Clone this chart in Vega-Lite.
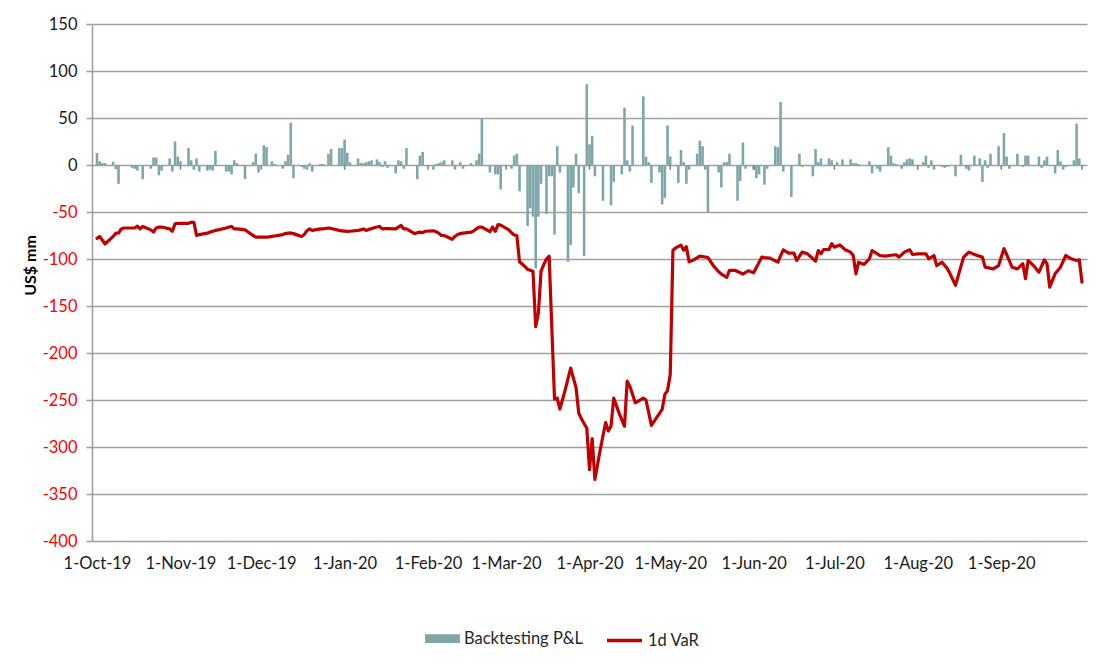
{
  "$schema": "https://vega.github.io/schema/vega-lite/v6.json",
  "width": 995,
  "height": 517,
  "autosize": {"type": "none"},
  "padding": {"left": 92, "top": 24, "right": 18, "bottom": 124},
  "background": "white",
  "config": {
    "font": "Lato",
    "view": {"stroke": null},
    "axisY": {
      "grid": true, "gridColor": "#A0A0A0", "gridWidth": 1.6,
      "domainColor": "#A0A0A0", "domainWidth": 1.6,
      "tickColor": "#A0A0A0", "tickSize": 6, "tickWidth": 1.6,
      "labelPadding": 9, "labelFontSize": 16.5,
      "labelColor": {"condition": {"test": "datum.value < 0", "value": "#FF0000"}, "value": "#1A1A1A"},
      "titleFontSize": 16, "titleFontWeight": "bold", "titleColor": "#000000",
      "titleX": -54, "titleY": 241, "titleAngle": -90
    },
    "axisX": {
      "grid": false, "ticks": false, "domain": false,
      "labelPadding": 14, "labelFontSize": 16.5, "labelColor": "#1A1A1A",
      "labelFlush": false, "labelOverlap": false
    },
    "legend": {"padding": 0, "labelFontSize": 16.5, "labelColor": "#262626", "labelOffset": 4}
  },
  "datasets": {
    "months": [
      {"date": "2019-11-01"}, {"date": "2019-12-01"}, {"date": "2020-01-01"}, {"date": "2020-02-01"},
      {"date": "2020-03-01"}, {"date": "2020-04-01"}, {"date": "2020-05-01"}, {"date": "2020-06-01"},
      {"date": "2020-07-01"}, {"date": "2020-08-01"}, {"date": "2020-09-01"}, {"date": "2020-10-01"}
    ],
    "pnl": [
      {"date":"2019-10-01","pnl":12.8},{"date":"2019-10-02","pnl":4},{"date":"2019-10-03","pnl":2},{"date":"2019-10-04","pnl":2},
      {"date":"2019-10-07","pnl":3.5},{"date":"2019-10-08","pnl":-4.6},{"date":"2019-10-09","pnl":-20},{"date":"2019-10-14","pnl":-3},
      {"date":"2019-10-15","pnl":-4},{"date":"2019-10-16","pnl":-6},{"date":"2019-10-18","pnl":-15},{"date":"2019-10-21","pnl":-4},
      {"date":"2019-10-22","pnl":8},{"date":"2019-10-23","pnl":8},{"date":"2019-10-24","pnl":-11},{"date":"2019-10-25","pnl":-6},
      {"date":"2019-10-28","pnl":7},{"date":"2019-10-29","pnl":-7},{"date":"2019-10-30","pnl":25},{"date":"2019-10-31","pnl":9},
      {"date":"2019-11-01","pnl":4},{"date":"2019-11-04","pnl":18},{"date":"2019-11-05","pnl":5},{"date":"2019-11-06","pnl":-5},
      {"date":"2019-11-07","pnl":7},{"date":"2019-11-08","pnl":-7},{"date":"2019-11-11","pnl":-6},{"date":"2019-11-12","pnl":-5},
      {"date":"2019-11-13","pnl":-6},{"date":"2019-11-14","pnl":15},{"date":"2019-11-18","pnl":-7},{"date":"2019-11-19","pnl":-7},
      {"date":"2019-11-20","pnl":-10},{"date":"2019-11-21","pnl":5},{"date":"2019-11-22","pnl":2},{"date":"2019-11-25","pnl":-15},
      {"date":"2019-11-28","pnl":3},{"date":"2019-11-29","pnl":12},{"date":"2019-11-30","pnl":-8},{"date":"2019-12-02","pnl":21},
      {"date":"2019-12-03","pnl":19},{"date":"2019-12-05","pnl":4},{"date":"2019-12-06","pnl":1},{"date":"2019-12-09","pnl":-4},
      {"date":"2019-12-10","pnl":4},{"date":"2019-12-11","pnl":11},{"date":"2019-12-12","pnl":45},{"date":"2019-12-13","pnl":-14},
      {"date":"2019-12-16","pnl":-2},{"date":"2019-12-17","pnl":-4},{"date":"2019-12-18","pnl":-5},{"date":"2019-12-19","pnl":2},
      {"date":"2019-12-20","pnl":-7},{"date":"2019-12-23","pnl":1},{"date":"2019-12-24","pnl":1},{"date":"2019-12-26","pnl":12},
      {"date":"2019-12-27","pnl":17},{"date":"2019-12-30","pnl":18},{"date":"2019-12-31","pnl":18},{"date":"2020-01-01","pnl":27},
      {"date":"2020-01-02","pnl":13},{"date":"2020-01-03","pnl":3},{"date":"2020-01-06","pnl":7},{"date":"2020-01-07","pnl":2},
      {"date":"2020-01-08","pnl":2},{"date":"2020-01-09","pnl":3},{"date":"2020-01-10","pnl":4},{"date":"2020-01-11","pnl":5},
      {"date":"2020-01-13","pnl":6},{"date":"2020-01-14","pnl":3},{"date":"2020-01-15","pnl":-2},{"date":"2020-01-16","pnl":4},
      {"date":"2020-01-17","pnl":-3},{"date":"2020-01-20","pnl":-9},{"date":"2020-01-21","pnl":5},{"date":"2020-01-22","pnl":4},
      {"date":"2020-01-23","pnl":-4},{"date":"2020-01-24","pnl":18},{"date":"2020-01-28","pnl":-15},{"date":"2020-01-29","pnl":10},
      {"date":"2020-01-30","pnl":14},{"date":"2020-02-03","pnl":-5},{"date":"2020-02-04","pnl":1},{"date":"2020-02-05","pnl":2},
      {"date":"2020-02-06","pnl":3},{"date":"2020-02-07","pnl":5},{"date":"2020-02-10","pnl":5},{"date":"2020-02-11","pnl":-5},
      {"date":"2020-02-13","pnl":3},{"date":"2020-02-14","pnl":-4},{"date":"2020-02-17","pnl":2},{"date":"2020-02-19","pnl":5},
      {"date":"2020-02-20","pnl":12},{"date":"2020-02-21","pnl":50},{"date":"2020-02-24","pnl":-8},{"date":"2020-02-26","pnl":-10},
      {"date":"2020-02-27","pnl":-10},{"date":"2020-02-28","pnl":-26},{"date":"2020-03-03","pnl":-4},{"date":"2020-03-04","pnl":10},
      {"date":"2020-03-05","pnl":12},{"date":"2020-03-06","pnl":-28},{"date":"2020-03-09","pnl":-65},{"date":"2020-03-10","pnl":-46},
      {"date":"2020-03-11","pnl":-55},{"date":"2020-03-12","pnl":-110},{"date":"2020-03-13","pnl":-55},{"date":"2020-03-14","pnl":-20},
      {"date":"2020-03-16","pnl":-52},{"date":"2020-03-17","pnl":-12},{"date":"2020-03-18","pnl":-12},{"date":"2020-03-19","pnl":-74},
      {"date":"2020-03-20","pnl":20},{"date":"2020-03-21","pnl":-8},{"date":"2020-03-24","pnl":-103},{"date":"2020-03-25","pnl":-85},
      {"date":"2020-03-26","pnl":-24},{"date":"2020-03-27","pnl":12},{"date":"2020-03-28","pnl":-30},{"date":"2020-03-30","pnl":-97},
      {"date":"2020-03-31","pnl":86},{"date":"2020-04-01","pnl":22},{"date":"2020-04-02","pnl":31},{"date":"2020-04-03","pnl":-12},
      {"date":"2020-04-06","pnl":-38},{"date":"2020-04-09","pnl":-43},{"date":"2020-04-10","pnl":-18},{"date":"2020-04-13","pnl":-10},
      {"date":"2020-04-14","pnl":61},{"date":"2020-04-15","pnl":5},{"date":"2020-04-16","pnl":-7},{"date":"2020-04-17","pnl":42},
      {"date":"2020-04-21","pnl":73},{"date":"2020-04-22","pnl":9},{"date":"2020-04-23","pnl":3},{"date":"2020-04-24","pnl":-19},
      {"date":"2020-04-27","pnl":-8},{"date":"2020-04-28","pnl":-42},{"date":"2020-04-29","pnl":-35},{"date":"2020-04-30","pnl":42},
      {"date":"2020-05-01","pnl":9},{"date":"2020-05-04","pnl":-19},{"date":"2020-05-05","pnl":16},{"date":"2020-05-06","pnl":3},
      {"date":"2020-05-07","pnl":-20},{"date":"2020-05-08","pnl":-5},{"date":"2020-05-11","pnl":12},{"date":"2020-05-12","pnl":26},
      {"date":"2020-05-13","pnl":20},{"date":"2020-05-14","pnl":-5},{"date":"2020-05-15","pnl":-50},{"date":"2020-05-19","pnl":-8},
      {"date":"2020-05-20","pnl":-24},{"date":"2020-05-21","pnl":3},{"date":"2020-05-22","pnl":3},{"date":"2020-05-23","pnl":12},
      {"date":"2020-05-26","pnl":-38},{"date":"2020-05-27","pnl":-17},{"date":"2020-05-28","pnl":24},{"date":"2020-05-29","pnl":-4},
      {"date":"2020-06-01","pnl":-5},{"date":"2020-06-02","pnl":-14},{"date":"2020-06-03","pnl":-10},{"date":"2020-06-05","pnl":-21},
      {"date":"2020-06-06","pnl":-4},{"date":"2020-06-09","pnl":20},{"date":"2020-06-10","pnl":19},{"date":"2020-06-11","pnl":67},
      {"date":"2020-06-12","pnl":-7},{"date":"2020-06-15","pnl":-34},{"date":"2020-06-18","pnl":12},{"date":"2020-06-19","pnl":-2},
      {"date":"2020-06-23","pnl":-12},{"date":"2020-06-24","pnl":17},{"date":"2020-06-25","pnl":3},{"date":"2020-06-26","pnl":7},
      {"date":"2020-06-29","pnl":7},{"date":"2020-06-30","pnl":5},{"date":"2020-07-02","pnl":3},{"date":"2020-07-04","pnl":6},
      {"date":"2020-07-07","pnl":6},{"date":"2020-07-08","pnl":2},{"date":"2020-07-09","pnl":2},{"date":"2020-07-10","pnl":1},
      {"date":"2020-07-14","pnl":4},{"date":"2020-07-15","pnl":-9},{"date":"2020-07-17","pnl":-4},{"date":"2020-07-18","pnl":-7},
      {"date":"2020-07-21","pnl":19},{"date":"2020-07-22","pnl":10},{"date":"2020-07-23","pnl":2},{"date":"2020-07-24","pnl":1},
      {"date":"2020-07-26","pnl":-4},{"date":"2020-07-27","pnl":3},{"date":"2020-07-28","pnl":6},{"date":"2020-07-29","pnl":7},
      {"date":"2020-07-30","pnl":6},{"date":"2020-08-03","pnl":3},{"date":"2020-08-04","pnl":10},{"date":"2020-08-05","pnl":-3},
      {"date":"2020-08-06","pnl":5},{"date":"2020-08-07","pnl":-5},{"date":"2020-08-10","pnl":-2},{"date":"2020-08-11","pnl":-3},
      {"date":"2020-08-12","pnl":-2},{"date":"2020-08-15","pnl":-12},{"date":"2020-08-17","pnl":11},{"date":"2020-08-19","pnl":-4},
      {"date":"2020-08-20","pnl":-6},{"date":"2020-08-22","pnl":10},{"date":"2020-08-24","pnl":7},{"date":"2020-08-25","pnl":-18},
      {"date":"2020-08-26","pnl":5},{"date":"2020-08-27","pnl":-3},{"date":"2020-08-28","pnl":12},{"date":"2020-08-31","pnl":20},
      {"date":"2020-09-02","pnl":34},{"date":"2020-09-03","pnl":9},{"date":"2020-09-04","pnl":-4},{"date":"2020-09-07","pnl":12},
      {"date":"2020-09-09","pnl":-2},{"date":"2020-09-10","pnl":10},{"date":"2020-09-11","pnl":10},{"date":"2020-09-15","pnl":9},
      {"date":"2020-09-16","pnl":-3},{"date":"2020-09-17","pnl":5},{"date":"2020-09-18","pnl":9},{"date":"2020-09-21","pnl":-9},
      {"date":"2020-09-22","pnl":16},{"date":"2020-09-23","pnl":4},{"date":"2020-09-24","pnl":-5},{"date":"2020-09-25","pnl":-2},
      {"date":"2020-09-28","pnl":5},{"date":"2020-09-29","pnl":44},{"date":"2020-09-30","pnl":7}
    ],
    "var": [
      {"date":"2019-10-01","var":-78},{"date":"2019-10-02","var":-76},{"date":"2019-10-03","var":-80},{"date":"2019-10-04","var":-84},
      {"date":"2019-10-07","var":-76},{"date":"2019-10-08","var":-72.5},{"date":"2019-10-09","var":-72.5},{"date":"2019-10-10","var":-68},
      {"date":"2019-10-11","var":-67},{"date":"2019-10-14","var":-67},{"date":"2019-10-15","var":-67},{"date":"2019-10-16","var":-65},
      {"date":"2019-10-17","var":-68},{"date":"2019-10-18","var":-65.4},{"date":"2019-10-21","var":-69},{"date":"2019-10-22","var":-71.4},
      {"date":"2019-10-23","var":-67},{"date":"2019-10-24","var":-66},{"date":"2019-10-25","var":-66},{"date":"2019-10-28","var":-68},
      {"date":"2019-10-29","var":-70.5},{"date":"2019-10-30","var":-62.5},{"date":"2019-10-31","var":-62},{"date":"2019-11-01","var":-62},
      {"date":"2019-11-04","var":-62},{"date":"2019-11-05","var":-61},{"date":"2019-11-06","var":-61},{"date":"2019-11-07","var":-75},
      {"date":"2019-11-08","var":-74},{"date":"2019-11-11","var":-72.5},{"date":"2019-11-12","var":-71.4},{"date":"2019-11-13","var":-70.5},
      {"date":"2019-11-14","var":-69.6},{"date":"2019-11-15","var":-69},{"date":"2019-11-18","var":-67},{"date":"2019-11-19","var":-66},
      {"date":"2019-11-20","var":-65.4},{"date":"2019-11-21","var":-68},{"date":"2019-11-22","var":-68},{"date":"2019-11-25","var":-69},
      {"date":"2019-11-26","var":-71},{"date":"2019-11-27","var":-73},{"date":"2019-11-28","var":-75},{"date":"2019-11-29","var":-76.7},
      {"date":"2019-12-02","var":-76.7},{"date":"2019-12-03","var":-76.7},{"date":"2019-12-04","var":-76.5},{"date":"2019-12-05","var":-76},
      {"date":"2019-12-06","var":-75.5},{"date":"2019-12-09","var":-74},{"date":"2019-12-10","var":-73},{"date":"2019-12-11","var":-72.5},
      {"date":"2019-12-12","var":-72.3},{"date":"2019-12-13","var":-73},{"date":"2019-12-16","var":-76},{"date":"2019-12-17","var":-74},
      {"date":"2019-12-18","var":-70},{"date":"2019-12-19","var":-68},{"date":"2019-12-20","var":-69.6},{"date":"2019-12-23","var":-68},
      {"date":"2019-12-24","var":-68},{"date":"2019-12-26","var":-67},{"date":"2019-12-27","var":-67.5},{"date":"2019-12-30","var":-69.6},
      {"date":"2019-12-31","var":-70},{"date":"2020-01-02","var":-70.7},{"date":"2020-01-03","var":-70.5},{"date":"2020-01-06","var":-69.6},
      {"date":"2020-01-07","var":-69},{"date":"2020-01-08","var":-68},{"date":"2020-01-09","var":-69.6},{"date":"2020-01-10","var":-68.5},
      {"date":"2020-01-13","var":-66},{"date":"2020-01-14","var":-65.4},{"date":"2020-01-15","var":-68},{"date":"2020-01-16","var":-67.7},
      {"date":"2020-01-17","var":-67.7},{"date":"2020-01-20","var":-68},{"date":"2020-01-21","var":-66},{"date":"2020-01-22","var":-64.3},
      {"date":"2020-01-23","var":-68},{"date":"2020-01-24","var":-68},{"date":"2020-01-27","var":-73},{"date":"2020-01-28","var":-72},
      {"date":"2020-01-29","var":-71.4},{"date":"2020-01-30","var":-72},{"date":"2020-01-31","var":-70.5},{"date":"2020-02-03","var":-70},
      {"date":"2020-02-04","var":-71},{"date":"2020-02-05","var":-72.5},{"date":"2020-02-06","var":-75},{"date":"2020-02-07","var":-75},
      {"date":"2020-02-10","var":-79},{"date":"2020-02-11","var":-76},{"date":"2020-02-12","var":-74},{"date":"2020-02-13","var":-73},
      {"date":"2020-02-14","var":-72.5},{"date":"2020-02-17","var":-71.5},{"date":"2020-02-18","var":-70},{"date":"2020-02-19","var":-68},
      {"date":"2020-02-20","var":-66},{"date":"2020-02-21","var":-66},{"date":"2020-02-24","var":-71},{"date":"2020-02-25","var":-66},
      {"date":"2020-02-26","var":-70.5},{"date":"2020-02-27","var":-63.5},{"date":"2020-02-28","var":-64},{"date":"2020-03-02","var":-69},
      {"date":"2020-03-03","var":-72},{"date":"2020-03-04","var":-74.5},{"date":"2020-03-05","var":-75},{"date":"2020-03-06","var":-103},
      {"date":"2020-03-08","var":-108},{"date":"2020-03-09","var":-111},{"date":"2020-03-10","var":-112},{"date":"2020-03-11","var":-113},
      {"date":"2020-03-12","var":-172},{"date":"2020-03-13","var":-158},{"date":"2020-03-14","var":-113},{"date":"2020-03-15","var":-106},
      {"date":"2020-03-16","var":-100},{"date":"2020-03-17","var":-97},{"date":"2020-03-19","var":-249},{"date":"2020-03-20","var":-248},
      {"date":"2020-03-21","var":-259.6},{"date":"2020-03-23","var":-239},{"date":"2020-03-25","var":-216},{"date":"2020-03-27","var":-237},
      {"date":"2020-03-28","var":-263.8},{"date":"2020-03-29","var":-270},{"date":"2020-03-31","var":-280},{"date":"2020-04-01","var":-324},
      {"date":"2020-04-02","var":-291},{"date":"2020-04-03","var":-334.5},{"date":"2020-04-05","var":-302.7},{"date":"2020-04-07","var":-274},
      {"date":"2020-04-08","var":-283},{"date":"2020-04-09","var":-278},{"date":"2020-04-10","var":-248},{"date":"2020-04-12","var":-264},
      {"date":"2020-04-14","var":-278},{"date":"2020-04-15","var":-230},{"date":"2020-04-16","var":-235.5},{"date":"2020-04-18","var":-253},
      {"date":"2020-04-21","var":-248},{"date":"2020-04-22","var":-250},{"date":"2020-04-24","var":-277},{"date":"2020-04-28","var":-260},
      {"date":"2020-04-29","var":-244},{"date":"2020-04-30","var":-240},{"date":"2020-05-01","var":-223},{"date":"2020-05-02","var":-90.6},
      {"date":"2020-05-03","var":-88.2},{"date":"2020-05-05","var":-85.3},{"date":"2020-05-06","var":-90.6},{"date":"2020-05-07","var":-87},
      {"date":"2020-05-08","var":-103},{"date":"2020-05-10","var":-100.5},{"date":"2020-05-12","var":-97},{"date":"2020-05-15","var":-98.4},
      {"date":"2020-05-17","var":-107},{"date":"2020-05-19","var":-113.6},{"date":"2020-05-20","var":-116},{"date":"2020-05-22","var":-119.6},
      {"date":"2020-05-23","var":-112},{"date":"2020-05-25","var":-112},{"date":"2020-05-28","var":-116},{"date":"2020-05-30","var":-112.5},
      {"date":"2020-06-01","var":-114.7},{"date":"2020-06-04","var":-98},{"date":"2020-06-05","var":-98.4},{"date":"2020-06-07","var":-99},
      {"date":"2020-06-10","var":-103.4},{"date":"2020-06-12","var":-90.2},{"date":"2020-06-14","var":-93.8},{"date":"2020-06-16","var":-93.8},
      {"date":"2020-06-17","var":-101.6},{"date":"2020-06-19","var":-92.7},{"date":"2020-06-21","var":-94.5},{"date":"2020-06-24","var":-102.3},
      {"date":"2020-06-25","var":-91},{"date":"2020-06-26","var":-94.5},{"date":"2020-06-27","var":-89.9},{"date":"2020-06-29","var":-89.9},
      {"date":"2020-06-30","var":-83.8},{"date":"2020-07-01","var":-87.4},{"date":"2020-07-03","var":-85},{"date":"2020-07-05","var":-90.2},
      {"date":"2020-07-07","var":-92.7},{"date":"2020-07-08","var":-96.3},{"date":"2020-07-09","var":-115.8},{"date":"2020-07-10","var":-103.4},
      {"date":"2020-07-12","var":-105.8},{"date":"2020-07-14","var":-99.8},{"date":"2020-07-15","var":-91},{"date":"2020-07-18","var":-96.3},
      {"date":"2020-07-20","var":-97},{"date":"2020-07-22","var":-96},{"date":"2020-07-24","var":-95.5},{"date":"2020-07-25","var":-98},
      {"date":"2020-07-27","var":-92.7},{"date":"2020-07-29","var":-90.2},{"date":"2020-07-30","var":-95.2},{"date":"2020-08-01","var":-94.5},
      {"date":"2020-08-04","var":-94.5},{"date":"2020-08-05","var":-99.8},{"date":"2020-08-07","var":-96.3},{"date":"2020-08-08","var":-107},
      {"date":"2020-08-10","var":-103.4},{"date":"2020-08-12","var":-110.5},{"date":"2020-08-13","var":-115.8},{"date":"2020-08-14","var":-122},
      {"date":"2020-08-15","var":-128},{"date":"2020-08-18","var":-98},{"date":"2020-08-20","var":-92.7},{"date":"2020-08-23","var":-96.3},
      {"date":"2020-08-25","var":-98},{"date":"2020-08-26","var":-108.7},{"date":"2020-08-29","var":-110.5},{"date":"2020-08-31","var":-107},
      {"date":"2020-09-02","var":-89},{"date":"2020-09-03","var":-95.2},{"date":"2020-09-05","var":-108.7},{"date":"2020-09-07","var":-110.5},
      {"date":"2020-09-09","var":-105},{"date":"2020-09-10","var":-121},{"date":"2020-09-11","var":-101.6},{"date":"2020-09-13","var":-107},
      {"date":"2020-09-15","var":-114},{"date":"2020-09-17","var":-100.9},{"date":"2020-09-18","var":-105},{"date":"2020-09-19","var":-130},
      {"date":"2020-09-21","var":-115.8},{"date":"2020-09-23","var":-108.7},{"date":"2020-09-25","var":-96.3},{"date":"2020-09-27","var":-99.8},
      {"date":"2020-09-29","var":-101.6},{"date":"2020-09-30","var":-101},{"date":"2020-10-01","var":-124.7}
    ]
  },
  "layer": [
    {
      "data": {"name": "pnl"},
      "mark": {"type": "bar", "size": 2.6},
      "encoding": {
        "x": {
          "field": "date", "type": "temporal", "title": null,
          "scale": {"type": "utc", "domain": [{"year": 2019, "month": 10, "date": 1, "utc": true}, {"year": 2020, "month": 10, "date": 1, "utc": true}]},
          "axis": {
            "format": "%-d-%b-%y",
            "values": [
              {"year": 2019, "month": 10, "date": 1, "utc": true}, {"year": 2019, "month": 11, "date": 1, "utc": true},
              {"year": 2019, "month": 12, "date": 1, "utc": true}, {"year": 2020, "month": 1, "date": 1, "utc": true},
              {"year": 2020, "month": 2, "date": 1, "utc": true}, {"year": 2020, "month": 3, "date": 1, "utc": true},
              {"year": 2020, "month": 4, "date": 1, "utc": true}, {"year": 2020, "month": 5, "date": 1, "utc": true},
              {"year": 2020, "month": 6, "date": 1, "utc": true}, {"year": 2020, "month": 7, "date": 1, "utc": true},
              {"year": 2020, "month": 8, "date": 1, "utc": true}, {"year": 2020, "month": 9, "date": 1, "utc": true}
            ]
          }
        },
        "y": {
          "field": "pnl", "type": "quantitative", "title": "US$ mm",
          "scale": {"domain": [-400, 150], "nice": false},
          "axis": {"values": [-400, -350, -300, -250, -200, -150, -100, -50, 0, 50, 100, 150], "labelExpr": "'' + datum.value"}
        },
        "fill": {
          "datum": "Backtesting P&L",
          "scale": {"range": ["#7FA7AA"]},
          "legend": {
            "orient": "none", "legendX": 333, "legendY": 597, "title": null,
            "symbolType": "M-1,-0.25H1V0.25H-1Z", "symbolSize": 1225, "symbolStrokeWidth": 0
          }
        }
      }
    },
    {
      "data": {"name": "months"},
      "mark": {"type": "rule", "color": "#7F7F7F", "strokeWidth": 1.5},
      "encoding": {
        "x": {"field": "date", "type": "temporal"},
        "y": {"datum": 0},
        "y2": {"datum": -5}
      }
    },
    {
      "data": {"name": "var"},
      "mark": {"type": "line", "strokeWidth": 3.2, "strokeJoin": "round", "strokeCap": "round"},
      "encoding": {
        "x": {"field": "date", "type": "temporal"},
        "y": {"field": "var", "type": "quantitative", "title": "US$ mm"},
        "stroke": {
          "datum": "1d VaR",
          "scale": {"range": ["#C00000"]},
          "legend": {
            "orient": "none", "legendX": 513, "legendY": 597, "title": null,
            "symbolType": "stroke", "symbolSize": 1225, "symbolStrokeWidth": 3.5
          }
        }
      }
    }
  ]
}
